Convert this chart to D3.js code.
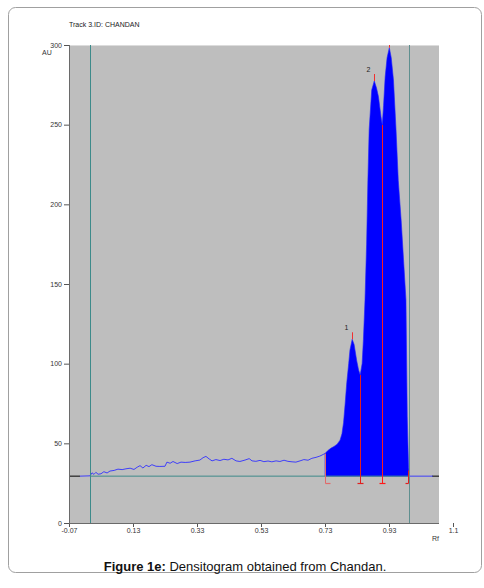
<!DOCTYPE html>
<html><head><meta charset="utf-8">
<script src="https://cdn.jsdelivr.net/npm/d3@7"></script>
<style>body{margin:0;background:#fff}svg{display:block}</style>
</head><body>
<svg id="c" width="484" height="588"></svg>
<script>
// ---- data ----
const traceRf = [-0.036,-0.004,0.002,0.008,0.014,0.021,0.030,0.039,0.049,0.058,0.071,0.083,0.096,0.108,0.121,0.133,0.143,0.152,0.161,0.171,0.180,0.189,0.202,0.214,0.230,0.236,0.246,0.255,0.268,0.280,0.293,0.308,0.324,0.339,0.349,0.358,0.368,0.377,0.389,0.402,0.414,0.427,0.439,0.452,0.464,0.480,0.493,0.502,0.514,0.527,0.539,0.552,0.564,0.577,0.589,0.602,0.614,0.627,0.639,0.652,0.664,0.677,0.689,0.702,0.714,0.724,0.730,
  0.739,0.749,0.758,0.768,0.777,0.783,0.788,0.793,0.798,0.804,0.808,0.815,0.821,0.829,0.835,0.840,0.846,0.850,0.855,0.860,0.864,0.868,0.876,0.884,0.891,0.897,0.905,0.909,0.913,0.918,0.924,0.931,0.937,0.944,0.952,0.959,0.968,0.977,0.983,0.987,0.991,0.994,1.067];
const traceAu = [29.4,29.6,31.5,30.5,31.8,30.6,30.9,32.2,31.4,32.6,33.0,33.8,33.5,34.0,34.4,33.6,35.0,36.0,34.5,36.2,35.4,36.6,35.6,35.5,35.6,38.2,37.5,38.6,37.3,38.2,38.0,38.2,39.0,39.5,41.0,41.8,40.2,39.0,39.8,39.2,40.0,39.6,40.6,39.0,38.6,39.5,40.4,39.0,38.7,39.3,38.5,38.9,38.4,39.0,38.6,39.4,38.7,38.4,38.2,39.0,39.8,39.4,40.6,41.2,42.0,43.0,43.6,
  45.5,47.0,48.0,49.5,52.0,56,63,75,88,100,108.6,115.3,112,102,96,92.9,100,115,140,175,215,247,271.8,277.4,273,267.6,255,249.8,262,280,292,298.3,292,278,246.7,215,190,160,140,67,35,29.4,29.4];
const fillStart = 0.730, fillEnd = 0.994;
const baselineAu = 29.4;
const trackLimits = [-0.003, 0.9925];
const markerRf = [0.730, 0.840, 0.909, 0.989];
const markerTopAu = [43.6, 92.9, 249.8, 33];
const peakRf = [0.815, 0.884, 0.931];
const peakAu = [115.3, 277.4, 298.3];
const peakLabels = ["1", "2", ""];
const yTicks = [0, 50, 100, 150, 200, 250, 300];
const xTickVals = [-0.07, 0.13, 0.33, 0.53, 0.73, 0.93, 1.13];
const xTickLabels = ["-0.07", "0.13", "0.33", "0.53", "0.73", "0.93", "1.1"];

// ---- drawing ----
const svg = d3.select("#c");
const x = d3.scaleLinear().domain([-0.07, 1.13]).range([69, 453]);
const y = d3.scaleLinear().domain([0, 300]).range([523, 45]);
const plotRight = 439;
const font = "Liberation Sans, Arial, sans-serif";

svg.append("rect").attr("x", 8.5).attr("y", 7.5).attr("width", 473).attr("height", 565)
  .attr("rx", 7).attr("fill", "#fff").attr("stroke", "#a0a0a0").attr("stroke-width", 1);

svg.append("text").attr("x", 69).attr("y", 27).attr("font-family", font).attr("font-size", 7)
  .attr("fill", "#222").text("Track 3.ID: CHANDAN");

// plot background
svg.append("rect").attr("x", x(-0.07)).attr("y", y(300)).attr("width", plotRight - x(-0.07))
  .attr("height", y(0) - y(300)).attr("fill", "#bebebe");
svg.append("line").attr("x1", x(-0.07)).attr("x2", plotRight).attr("y1", y(300) + 0.5).attr("y2", y(300) + 0.5)
  .attr("stroke", "#dcdcdc");

// fill area
const pts = traceRf.map((r, i) => [r, traceAu[i]]);
const area = d3.area().x(d => x(d[0])).y0(y(baselineAu)).y1(d => y(d[1]))
  .defined(d => d[0] >= fillStart - 1e-9 && d[0] <= fillEnd + 1e-9);
svg.append("path").datum(pts).attr("d", area).attr("fill", "#0000ff")
  .attr("stroke", "#2020ff").attr("stroke-width", 0.6);

// baseline teal
svg.append("line").attr("x1", x(trackLimits[0])).attr("x2", x(trackLimits[1]))
  .attr("y1", y(baselineAu)).attr("y2", y(baselineAu)).attr("stroke", "#3d8a8a").attr("stroke-width", 1);
// black ends
svg.append("line").attr("x1", x(-0.07)).attr("x2", 80).attr("y1", y(baselineAu)).attr("y2", y(baselineAu))
  .attr("stroke", "#000").attr("stroke-width", 1);
svg.append("line").attr("x1", 432).attr("x2", plotRight).attr("y1", y(baselineAu)).attr("y2", y(baselineAu))
  .attr("stroke", "#000").attr("stroke-width", 1);

// trace line (non-filled part)
const line = d3.line().x(d => x(d[0])).y(d => y(d[1]))
  .defined(d => d[0] <= fillStart + 1e-9 || d[0] >= fillEnd - 1e-9);
svg.append("path").datum(pts).attr("d", line).attr("fill", "none")
  .attr("stroke", "#3030ff").attr("stroke-width", 0.9);

// track limit vertical lines
svg.selectAll(".tl").data(trackLimits).join("line")
  .attr("x1", d => Math.round(x(d)) + 0.5).attr("x2", d => Math.round(x(d)) + 0.5)
  .attr("y1", y(300)).attr("y2", y(0)).attr("stroke", (d, i) => i === 0 ? "#3d8a8a" : "#5f8f8f").attr("stroke-width", 1);

// red markers
const yb = 483.5;
markerRf.forEach((r, i) => {
  const xx = Math.round(x(r)) + 0.5;
  const col = i === 0 ? "#e06a6a" : (i === 2 ? "#ff1a1a" : "#e02020");
  svg.append("line").attr("x1", xx).attr("x2", xx).attr("y1", yb).attr("y2", y(markerTopAu[i]))
    .attr("stroke", col).attr("stroke-width", 1);
  const cl = i === 0 ? xx : xx - 3, cr = i === 3 ? xx : xx + 3;
  svg.append("line").attr("x1", cl).attr("x2", cr + (i === 0 ? 2 : 0)).attr("y1", yb).attr("y2", yb)
    .attr("stroke", col).attr("stroke-width", 1.2);
});
// peak markers (clipped to plot top)
peakRf.forEach((r, i) => {
  const xx = Math.round(x(r)) + 0.5;
  svg.append("line").attr("x1", xx).attr("x2", xx).attr("y1", Math.max(y(300), y(peakAu[i]) - 7)).attr("y2", y(peakAu[i]))
    .attr("stroke", "#f03030").attr("stroke-width", 1);
  if (peakLabels[i]) svg.append("text").attr("x", xx - 8).attr("y", y(peakAu[i]) - 9)
    .attr("font-family", font).attr("font-size", 7).attr("fill", "#222").text(peakLabels[i]);
});

// axes
const yAxis = d3.axisLeft(y).tickValues(yTicks).tickSize(5).tickPadding(2);
const gy = svg.append("g").attr("transform", `translate(${x(-0.07)},0)`).call(yAxis);
gy.select(".domain").remove();
gy.selectAll("line").attr("stroke", "#555");
gy.selectAll("text").attr("font-family", font).attr("font-size", 7).attr("fill", "#333");
svg.append("line").attr("x1", x(-0.07) + 0.5).attr("x2", x(-0.07) + 0.5).attr("y1", y(300)).attr("y2", y(0))
  .attr("stroke", "#6a6a6a").attr("stroke-width", 1);

const xAxis = d3.axisBottom(x).tickValues(xTickVals).tickFormat((d, i) => xTickLabels[i]).tickSize(4).tickPadding(1);
const gx = svg.append("g").attr("transform", `translate(0,${y(0)})`).call(xAxis);
gx.select(".domain").remove();
gx.selectAll("line").attr("stroke", "#555");
gx.selectAll("text").attr("font-family", font).attr("font-size", 7).attr("fill", "#333");
svg.append("line").attr("x1", x(-0.07)).attr("x2", plotRight).attr("y1", y(0) + 0.5).attr("y2", y(0) + 0.5)
  .attr("stroke", "#6a6a6a").attr("stroke-width", 1);

svg.append("text").attr("x", 42).attr("y", 55).attr("font-family", font).attr("font-size", 7).attr("fill", "#333").text("AU");
svg.append("text").attr("x", 432).attr("y", 541).attr("font-family", font).attr("font-size", 7).attr("fill", "#333").text("Rf");

const cap = svg.append("text").attr("x", 245).attr("y", 571).attr("text-anchor", "middle")
  .attr("font-family", font).attr("font-size", 13).attr("fill", "#111");
cap.append("tspan").attr("font-weight", "bold").text("Figure 1e:");
cap.append("tspan").text(" Densitogram obtained from Chandan.");
</script>
</body></html>
